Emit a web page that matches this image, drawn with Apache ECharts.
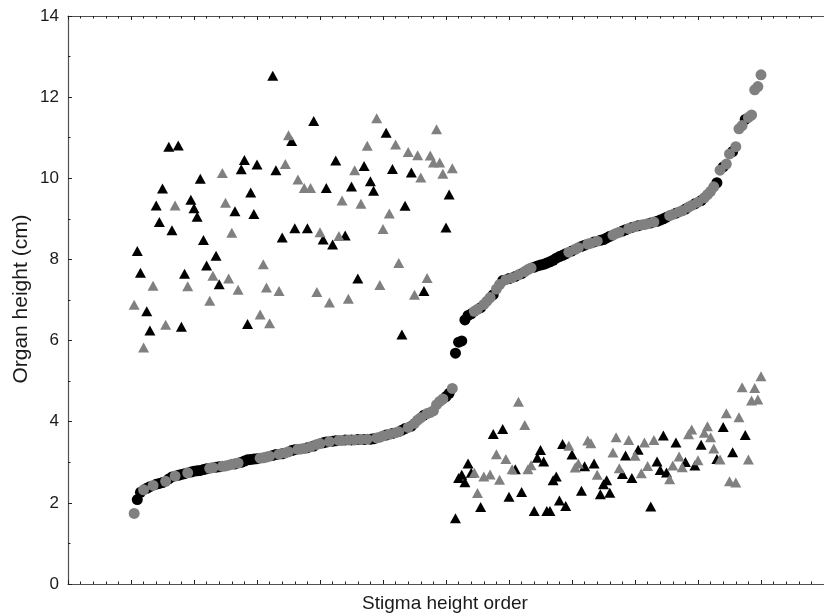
<!DOCTYPE html>
<html>
<head>
<meta charset="utf-8">
<script src="https://cdn.jsdelivr.net/npm/echarts@6/dist/echarts.min.js"></script>
<style>
html,body{margin:0;padding:0;background:#fff;}
#chart{width:824px;height:616px;}
</style>
</head>
<body>
<div id="chart"></div>
<script>
// Flowers ordered by stigma height; order index of the first flower
const firstOrder = 21;

// Stigma height (cm) for orders 21..220
const stigmaHeight = [
  1.74,2.08,2.26,2.32,2.36,2.40,2.43,2.46,2.48,2.50,
  2.53,2.59,2.64,2.66,2.68,2.70,2.72,2.74,2.76,2.78,
  2.79,2.80,2.82,2.84,2.85,2.87,2.88,2.89,2.90,2.91,
  2.93,2.95,2.96,2.98,3.00,3.03,3.06,3.07,3.08,3.09,
  3.10,3.11,3.13,3.15,3.17,3.19,3.20,3.21,3.23,3.26,
  3.29,3.31,3.32,3.33,3.34,3.36,3.38,3.40,3.44,3.46,
  3.48,3.50,3.51,3.52,3.53,3.54,3.54,3.55,3.55,3.55,
  3.55,3.56,3.56,3.56,3.57,3.57,3.58,3.60,3.62,3.65,
  3.67,3.69,3.71,3.73,3.75,3.79,3.83,3.86,3.89,3.96,
  4.04,4.10,4.16,4.20,4.23,4.27,4.42,4.50,4.56,4.62,
  4.70,4.82,5.69,5.96,5.99,6.51,6.62,6.66,6.72,6.77,
  6.81,6.89,6.97,7.06,7.13,7.27,7.38,7.48,7.50,7.53,
  7.55,7.58,7.62,7.65,7.70,7.75,7.79,7.81,7.84,7.86,
  7.88,7.91,7.94,7.98,8.03,8.07,8.10,8.14,8.18,8.21,
  8.25,8.29,8.32,8.35,8.38,8.40,8.43,8.45,8.47,8.49,
  8.53,8.57,8.60,8.64,8.67,8.70,8.73,8.76,8.79,8.81,
  8.83,8.85,8.86,8.88,8.90,8.92,8.94,8.97,9.00,9.04,
  9.08,9.11,9.14,9.17,9.20,9.24,9.29,9.33,9.37,9.41,
  9.45,9.52,9.60,9.68,9.79,9.89,10.20,10.28,10.35,10.60,
  10.66,10.78,11.22,11.30,11.45,11.50,11.56,12.18,12.26,12.55
];

// Anther height (cm) for the same flowers (null = not visible)
const antherHeight = [
  6.88,8.21,7.67,5.83,6.72,6.25,7.35,9.33,8.92,9.75,
  6.39,10.78,8.72,9.33,10.81,6.34,7.65,7.34,9.47,9.26,
  9.05,9.99,8.48,7.85,6.98,7.60,8.09,7.39,10.13,9.40,
  7.53,8.66,9.19,7.25,10.22,10.45,6.41,9.65,9.12,10.34,
  6.64,7.88,7.31,6.43,12.53,10.20,7.22,8.54,10.35,11.06,
  10.92,8.77,9.97,null,9.76,8.77,9.76,11.41,7.20,8.67,
  8.49,9.76,6.94,8.37,10.44,8.58,9.45,8.59,7.03,9.80,
  10.20,7.53,9.37,10.30,10.80,9.93,9.69,11.48,7.37,8.75,
  11.12,9.13,10.23,10.83,7.91,6.15,9.32,10.65,10.14,7.13,
  10.57,10.02,7.22,7.54,10.56,10.39,11.21,10.39,10.11,8.79,
  9.60,10.25,1.62,2.61,2.69,2.51,2.97,2.74,2.74,2.24,
  1.90,2.65,null,2.70,3.70,3.20,2.57,3.82,3.08,2.15,
  2.83,2.83,4.49,2.27,3.92,2.83,2.93,1.80,3.11,3.30,
  3.02,1.80,1.80,2.56,2.65,2.06,3.45,1.92,3.41,3.19,
  2.87,2.97,2.30,2.90,3.54,3.47,2.97,2.69,2.21,2.46,
  2.56,2.25,3.24,3.62,2.85,2.71,3.17,3.55,2.61,3.16,
  3.31,2.73,3.49,2.91,1.91,3.55,3.02,2.81,3.66,2.75,
  2.58,2.92,3.49,3.14,2.88,3.01,3.69,3.81,2.92,3.05,
  3.43,3.73,3.89,3.62,3.34,3.08,3.07,3.87,4.21,2.53,
  3.25,2.50,4.11,4.85,3.67,3.07,4.52,4.83,4.55,5.12
];

// Population of each flower (1 or 2)
const population = [
  2,1,1,2,1,1,2,1,1,1,
  2,1,1,2,1,1,1,2,1,1,
  1,1,1,1,2,2,1,1,2,2,
  2,2,1,2,1,1,1,1,1,1,
  2,2,2,2,1,1,2,1,2,2,
  1,1,2,2,2,1,2,1,2,2,
  1,1,2,1,1,2,2,1,2,1,
  2,1,2,1,2,1,1,2,2,2,
  1,2,1,2,2,1,1,2,1,2,
  2,2,1,2,2,2,2,2,2,1,
  1,2,1,1,1,1,1,1,2,2,
  1,2,2,2,1,2,2,1,2,1,
  2,1,2,1,2,2,2,1,1,1,
  1,1,1,1,1,1,1,1,2,1,
  2,2,1,1,2,2,1,2,1,1,
  1,1,2,2,2,1,1,2,1,2,
  1,2,2,2,1,2,1,1,1,1,
  2,2,1,2,2,1,2,2,1,2,
  1,2,2,2,2,1,2,1,2,2,
  1,2,2,2,1,2,2,2,2,2
];

const xTitle = 'Stigma height order';
const yTitle = 'Organ height (cm)';

const stigma1 = [], stigma2 = [], anther1 = [], anther2 = [];
stigmaHeight.forEach((v, i) => {
  const o = firstOrder + i;
  (population[i] === 1 ? stigma1 : stigma2).push([o, v]);
  if (antherHeight[i] != null) {
    (population[i] === 1 ? anther1 : anther2).push([o, antherHeight[i]]);
  }
});

const BLACK = '#000000';
const GRAY = '#808080';
const AXIS = '#505050';
const FONT = 'Liberation Sans, Arial, sans-serif';

function xAx(pos) {
  return {
    type: 'value', position: pos, min: 0, max: 240, interval: 20,
    axisLine: { show: true, onZero: false, lineStyle: { color: AXIS, width: 1.2 } },
    axisTick: { show: true, inside: true, length: 4, lineStyle: { color: '#222', width: 1 } },
    minorTick: { show: true, splitNumber: 5, length: 2.5, lineStyle: { color: '#222', width: 1 } },
    axisLabel: { show: false },
    splitLine: { show: false }, minorSplitLine: { show: false }
  };
}

const chart = echarts.init(document.getElementById('chart'), null, { renderer: 'canvas' });
chart.setOption({
  animation: false,
  backgroundColor: '#fff',
  grid: { left: 68, top: 16, bottom: 32, right: -10, containLabel: false },
  xAxis: [xAx('bottom'), xAx('top')],
  yAxis: {
    type: 'value', min: 0, max: 14, interval: 2,
    axisLine: { show: true, onZero: false, lineStyle: { color: AXIS, width: 1.2 } },
    axisTick: { show: true, inside: true, length: 4, lineStyle: { color: '#222', width: 1 } },
    minorTick: { show: true, splitNumber: 2, length: 2.5, lineStyle: { color: '#222', width: 1 } },
    axisLabel: { show: true, margin: 9, color: '#1a1a1a', fontSize: 17, fontFamily: FONT },
    splitLine: { show: false }
  },
  graphic: [
    { type: 'text', x: 445, y: 604,
      style: { text: xTitle, fill: '#1a1a1a', font: '19px ' + FONT, textAlign: 'center', textVerticalAlign: 'middle' },
      z: 10 },
    { type: 'text', x: 21, y: 299, rotation: Math.PI / 2,
      style: { text: yTitle, fill: '#1a1a1a', font: '21px ' + FONT, textAlign: 'center', textVerticalAlign: 'middle' },
      z: 10 }
  ],
  series: [
    { name: 'anther1', type: 'scatter', data: anther1, symbol: 'triangle', symbolSize: [11, 10],
      itemStyle: { color: BLACK, opacity: 1 }, z: 2 },
    { name: 'anther2', type: 'scatter', data: anther2, symbol: 'triangle', symbolSize: [11, 10],
      itemStyle: { color: GRAY, opacity: 1 }, z: 2 },
    { name: 'stigma1', type: 'scatter', data: stigma1, symbol: 'circle', symbolSize: 11,
      itemStyle: { color: BLACK, opacity: 1 }, z: 3 },
    { name: 'stigma2', type: 'scatter', data: stigma2, symbol: 'circle', symbolSize: 11,
      itemStyle: { color: GRAY, opacity: 1 }, z: 4 }
  ]
});
</script>
</body>
</html>
